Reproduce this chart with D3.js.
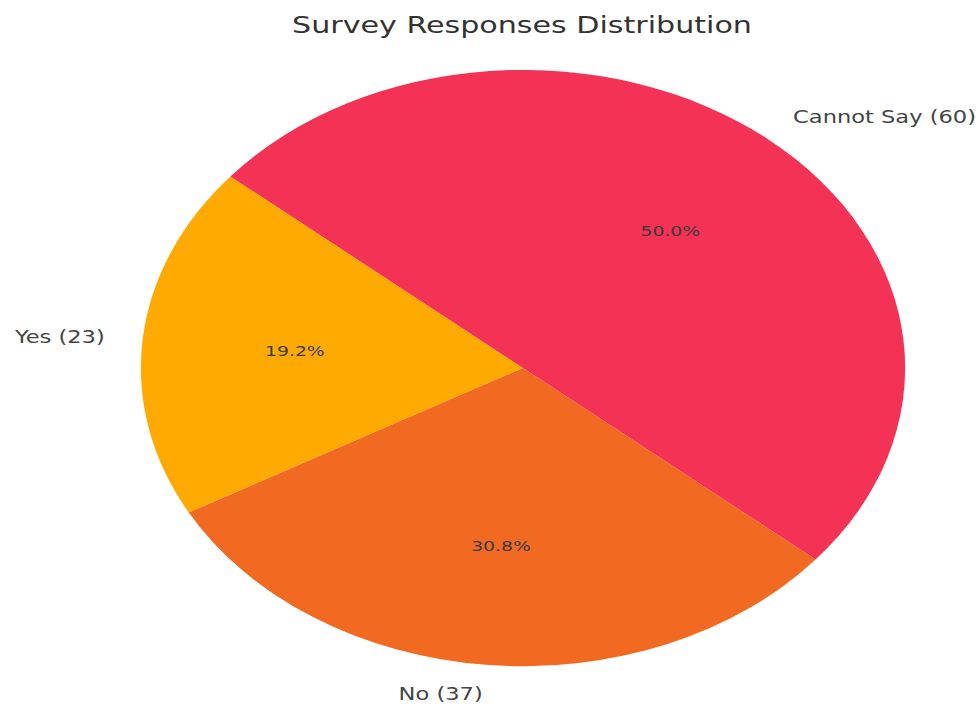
<!DOCTYPE html>
<html>
<head>
<meta charset="utf-8">
<script src="https://cdn.jsdelivr.net/npm/d3@7"></script>
<style>
  body { margin: 0; background: #fff; }
  svg { display: block; font-family: "DejaVu Sans", sans-serif; }
</style>
</head>
<body>
<div id="chart"></div>
<script>
var categories = ["Yes", "No", "Cannot Say"],
    counts = [23, 37, 60],
    colors = ["#FFAA00", "#F26A22", "#F33256"];

var width = 979,
    height = 704,
    cx = 523, cy = 368,
    rx = 382, ry = 298,
    sx = rx / ry; // the picture is stretched sideways, text too

var svg = d3.select("#chart").append("svg")
    .attr("width", width)
    .attr("height", height);

// matplotlib style: start at 140deg, counter-clockwise
var start = (90 - 140) * Math.PI / 180;
var pie = d3.pie()
    .sort(null)
    .startAngle(start)
    .endAngle(start - 2 * Math.PI);

var arc = d3.arc().innerRadius(0).outerRadius(1);

var slices = pie(counts);
var total = d3.sum(counts);

svg.append("g")
    .attr("transform", "translate(" + cx + "," + cy + ") scale(" + rx + "," + ry + ")")
  .selectAll("path")
    .data(slices)
    .join("path")
    .attr("d", arc)
    .attr("fill", (d, i) => colors[i]);

function pos(d, r) {
    var a = (d.startAngle + d.endAngle) / 2;
    return [cx + r * rx * Math.sin(a), cy - r * ry * Math.cos(a), Math.sin(a)];
}

// outer labels
slices.forEach(function(d, i) {
    var p = pos(d, 1.1);
    svg.append("text")
        .attr("transform", "translate(" + p[0] + "," + p[1] + ") scale(" + sx + ",1)")
        .attr("text-anchor", p[2] > 0 ? "start" : "end")
        .attr("dominant-baseline", "central")
        .attr("font-size", 17.6)
        .attr("fill", "#444")
        .text(categories[i] + " (" + counts[i] + ")");

    var q = pos(d, 0.6);
    svg.append("text")
        .attr("transform", "translate(" + q[0] + "," + q[1] + ") scale(" + sx + ",1)")
        .attr("text-anchor", "middle")
        .attr("dominant-baseline", "central")
        .attr("font-size", 14.7)
        .attr("fill", "#3a3a3a")
        .text((counts[i] / total * 100).toFixed(1) + "%");
});

svg.append("text")
    .attr("transform", "translate(522,33) scale(" + sx + ",1)")
    .attr("text-anchor", "middle")
    .attr("font-size", 23.5)
    .attr("fill", "#333")
    .text("Survey Responses Distribution");
</script>
</body>
</html>
